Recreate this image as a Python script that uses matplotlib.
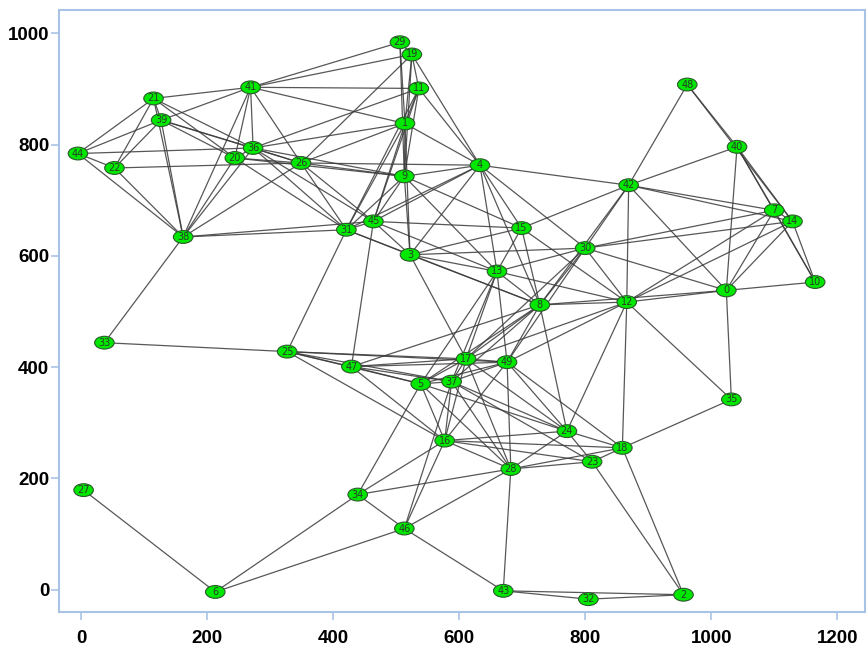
import matplotlib
matplotlib.use('Agg')
import matplotlib.pyplot as plt
from matplotlib.patches import Ellipse

# Knotenpositionen (Index = Knotennummer)
node_x = [1024, 514, 956, 522, 633, 539, 213, 1100, 728, 513,
          1165, 536, 866, 660, 1129, 699, 577, 611, 859, 525,
          244, 115, 53, 811, 771, 327, 349, 4, 682, 506,
          800, 421, 805, 37, 439, 1032, 273, 588, 162, 127,
          1041, 269, 869, 670, -5, 464, 513, 429, 962, 676]
node_y = [538, 838, -9, 602, 763, 370, -4, 682, 512, 743,
          553, 901, 517, 572, 662, 650, 268, 415, 255, 962,
          776, 883, 758, 230, 285, 428, 767, 179, 217, 984,
          614, 647, -17, 444, 171, 342, 794, 374, 634, 844,
          796, 903, 727, -2, 784, 662, 110, 401, 908, 409]

# Hrany grafu
edges = [
    (27, 6), (6, 34), (6, 46), (33, 38), (33, 25),
    (34, 46), (34, 5), (34, 16), (34, 28),
    (46, 43), (46, 16), (46, 37), (46, 28),
    (43, 28), (43, 32), (43, 2), (32, 2), (2, 23), (2, 18),
    (18, 35), (18, 12), (18, 24), (18, 23), (18, 16), (18, 28), (18, 49),
    (35, 0), (35, 12),
    (0, 10), (0, 12), (0, 8), (0, 40), (0, 7), (0, 14), (0, 42), (0, 30),
    (10, 14), (10, 7), (40, 7), (40, 14), (40, 10), (7, 14),
    (48, 42), (48, 40), (48, 14),
    (42, 40), (42, 7), (42, 14), (42, 30), (42, 12), (42, 8), (42, 4), (42, 15),
    (30, 7), (30, 14), (30, 12), (30, 8), (30, 49), (30, 13), (30, 4), (30, 17),
    (12, 7), (12, 14), (12, 15), (12, 13), (12, 8), (12, 49), (12, 17), (12, 24),
    (44, 21), (44, 39), (44, 22), (44, 38), (44, 36),
    (21, 22), (21, 39), (21, 41), (21, 38), (21, 20), (21, 36),
    (39, 22), (39, 41), (39, 38), (39, 20), (39, 36), (39, 26),
    (22, 38), (22, 26),
    (41, 38), (41, 20), (41, 36), (41, 26), (41, 29), (41, 19), (41, 11), (41, 1),
    (38, 20), (38, 36), (38, 26), (38, 31), (38, 45),
    (20, 36), (20, 26), (20, 31), (20, 9),
    (36, 26), (36, 1), (36, 11), (36, 9), (36, 31), (36, 45),
    (26, 1), (26, 19), (26, 9), (26, 4), (26, 31), (26, 45),
    (29, 19), (29, 1), (29, 9),
    (19, 11), (19, 1), (19, 9), (19, 4),
    (11, 1), (11, 9), (11, 4), (11, 31), (11, 45),
    (1, 9), (1, 4), (1, 31), (1, 45), (1, 3),
    (9, 4), (9, 45), (9, 31), (9, 3), (9, 15), (9, 13),
    (4, 45), (4, 31), (4, 3), (4, 15), (4, 13), (4, 8),
    (45, 31), (45, 15), (45, 3), (45, 13), (45, 47),
    (31, 25), (31, 3), (31, 8),
    (3, 15), (3, 13), (3, 8), (3, 17), (3, 30),
    (15, 13), (15, 8),
    (13, 8), (13, 17), (13, 49), (13, 37), (13, 5),
    (8, 49), (8, 17), (8, 37), (8, 47), (8, 24), (8, 5),
    (25, 47), (25, 17), (25, 49), (25, 5), (25, 37), (25, 16),
    (47, 17), (47, 49), (47, 5), (47, 37), (47, 16),
    (17, 49), (17, 5), (17, 37), (17, 16), (17, 28), (17, 24),
    (49, 37), (49, 5), (49, 16), (49, 28), (49, 24),
    (5, 37), (5, 16), (5, 28), (5, 24),
    (37, 16), (37, 28), (37, 24), (37, 23),
    (16, 28), (16, 24), (16, 23),
    (24, 28), (24, 23), (28, 23),
]

x_ticks = [0, 200, 400, 600, 800, 1000, 1200]
y_ticks = [0, 200, 400, 600, 800, 1000]

fig = plt.figure(figsize=(8.68, 6.48), dpi=100)
ax = fig.add_axes([0.068, 0.0556, 0.9285, 0.929])

for a, b in edges:
    ax.plot([node_x[a], node_x[b]], [node_y[a], node_y[b]],
            color='#3a3a3a', linewidth=0.9, alpha=0.85, zorder=1)

for i in range(len(node_x)):
    ax.add_patch(Ellipse((node_x[i], node_y[i]), 31, 23,
                         facecolor='#00e800', edgecolor='#2b5a2b',
                         linewidth=0.8, zorder=2))
    ax.text(node_x[i], node_y[i], str(i), ha='center', va='center',
            fontsize=7, color='#2a3a2a', zorder=3)

ax.set_xlim(-35, 1244)
ax.set_ylim(-40, 1042)
ax.set_xticks(x_ticks)
ax.set_yticks(y_ticks)

blue = '#a9c3e6'
for s in ax.spines.values():
    s.set_color(blue)
    s.set_linewidth(1.5)
ax.tick_params(axis='both', colors=blue, length=6, width=1.2,
               labelcolor='black', labelsize=13.5)
ax.tick_params(axis='x', pad=7)
ax.tick_params(axis='y', pad=1)
for lab in ax.get_xticklabels() + ax.get_yticklabels():
    lab.set_fontweight('bold')
    lab.set_family('Liberation Sans')

fig.savefig('out.png', dpi=100)
